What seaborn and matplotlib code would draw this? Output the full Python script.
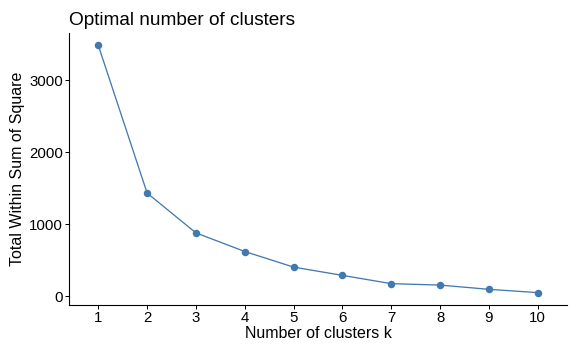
import matplotlib
matplotlib.use("Agg")
import matplotlib.pyplot as plt
import seaborn as sns
import pandas as pd

k = [1, 2, 3, 4, 5, 6, 7, 8, 9, 10]
wss = [3486, 1432, 878, 619, 402, 287, 172, 152, 93, 47]
xticks = [1, 2, 3, 4, 5, 6, 7, 8, 9, 10]
yticks = [0, 1000, 2000, 3000]

sns.set_style("ticks")
plt.rcParams['font.family'] = ['Liberation Sans', 'DejaVu Sans']
plt.rcParams['text.color'] = 'black'
plt.rcParams['axes.labelcolor'] = 'black'

df = pd.DataFrame({"k": k, "wss": wss})
fig = plt.figure(figsize=(8, 355/72), dpi=72)
ax = fig.add_axes([69/576, 50/355, (567-69)/576, (305-33)/355])
sns.lineplot(data=df, x="k", y="wss", ax=ax, color="#4279B0", linewidth=1.3,
             marker="o", markersize=7.5, markeredgewidth=0)
ax.set_xlim(0.4, 10.6)
ax.set_ylim(-125, 3658)
ax.set_xticks(xticks)
ax.set_yticks(yticks)
ax.tick_params(axis="both", labelsize=15, length=4, width=1, colors="black", labelcolor="black", pad=2)
for s in ["top", "right"]:
    ax.spines[s].set_visible(False)
for s in ["left", "bottom"]:
    ax.spines[s].set_linewidth(1.1)
    ax.spines[s].set_color("black")
ax.set_xlabel("Number of clusters k", fontsize=16, labelpad=1, color="black")
ax.set_ylabel("Total Within Sum of Square", fontsize=16, labelpad=4, color="black")
ax.set_title("Optimal number of clusters", fontsize=19, loc="left", pad=8, color="black")
fig.savefig("out.png", dpi=72)
